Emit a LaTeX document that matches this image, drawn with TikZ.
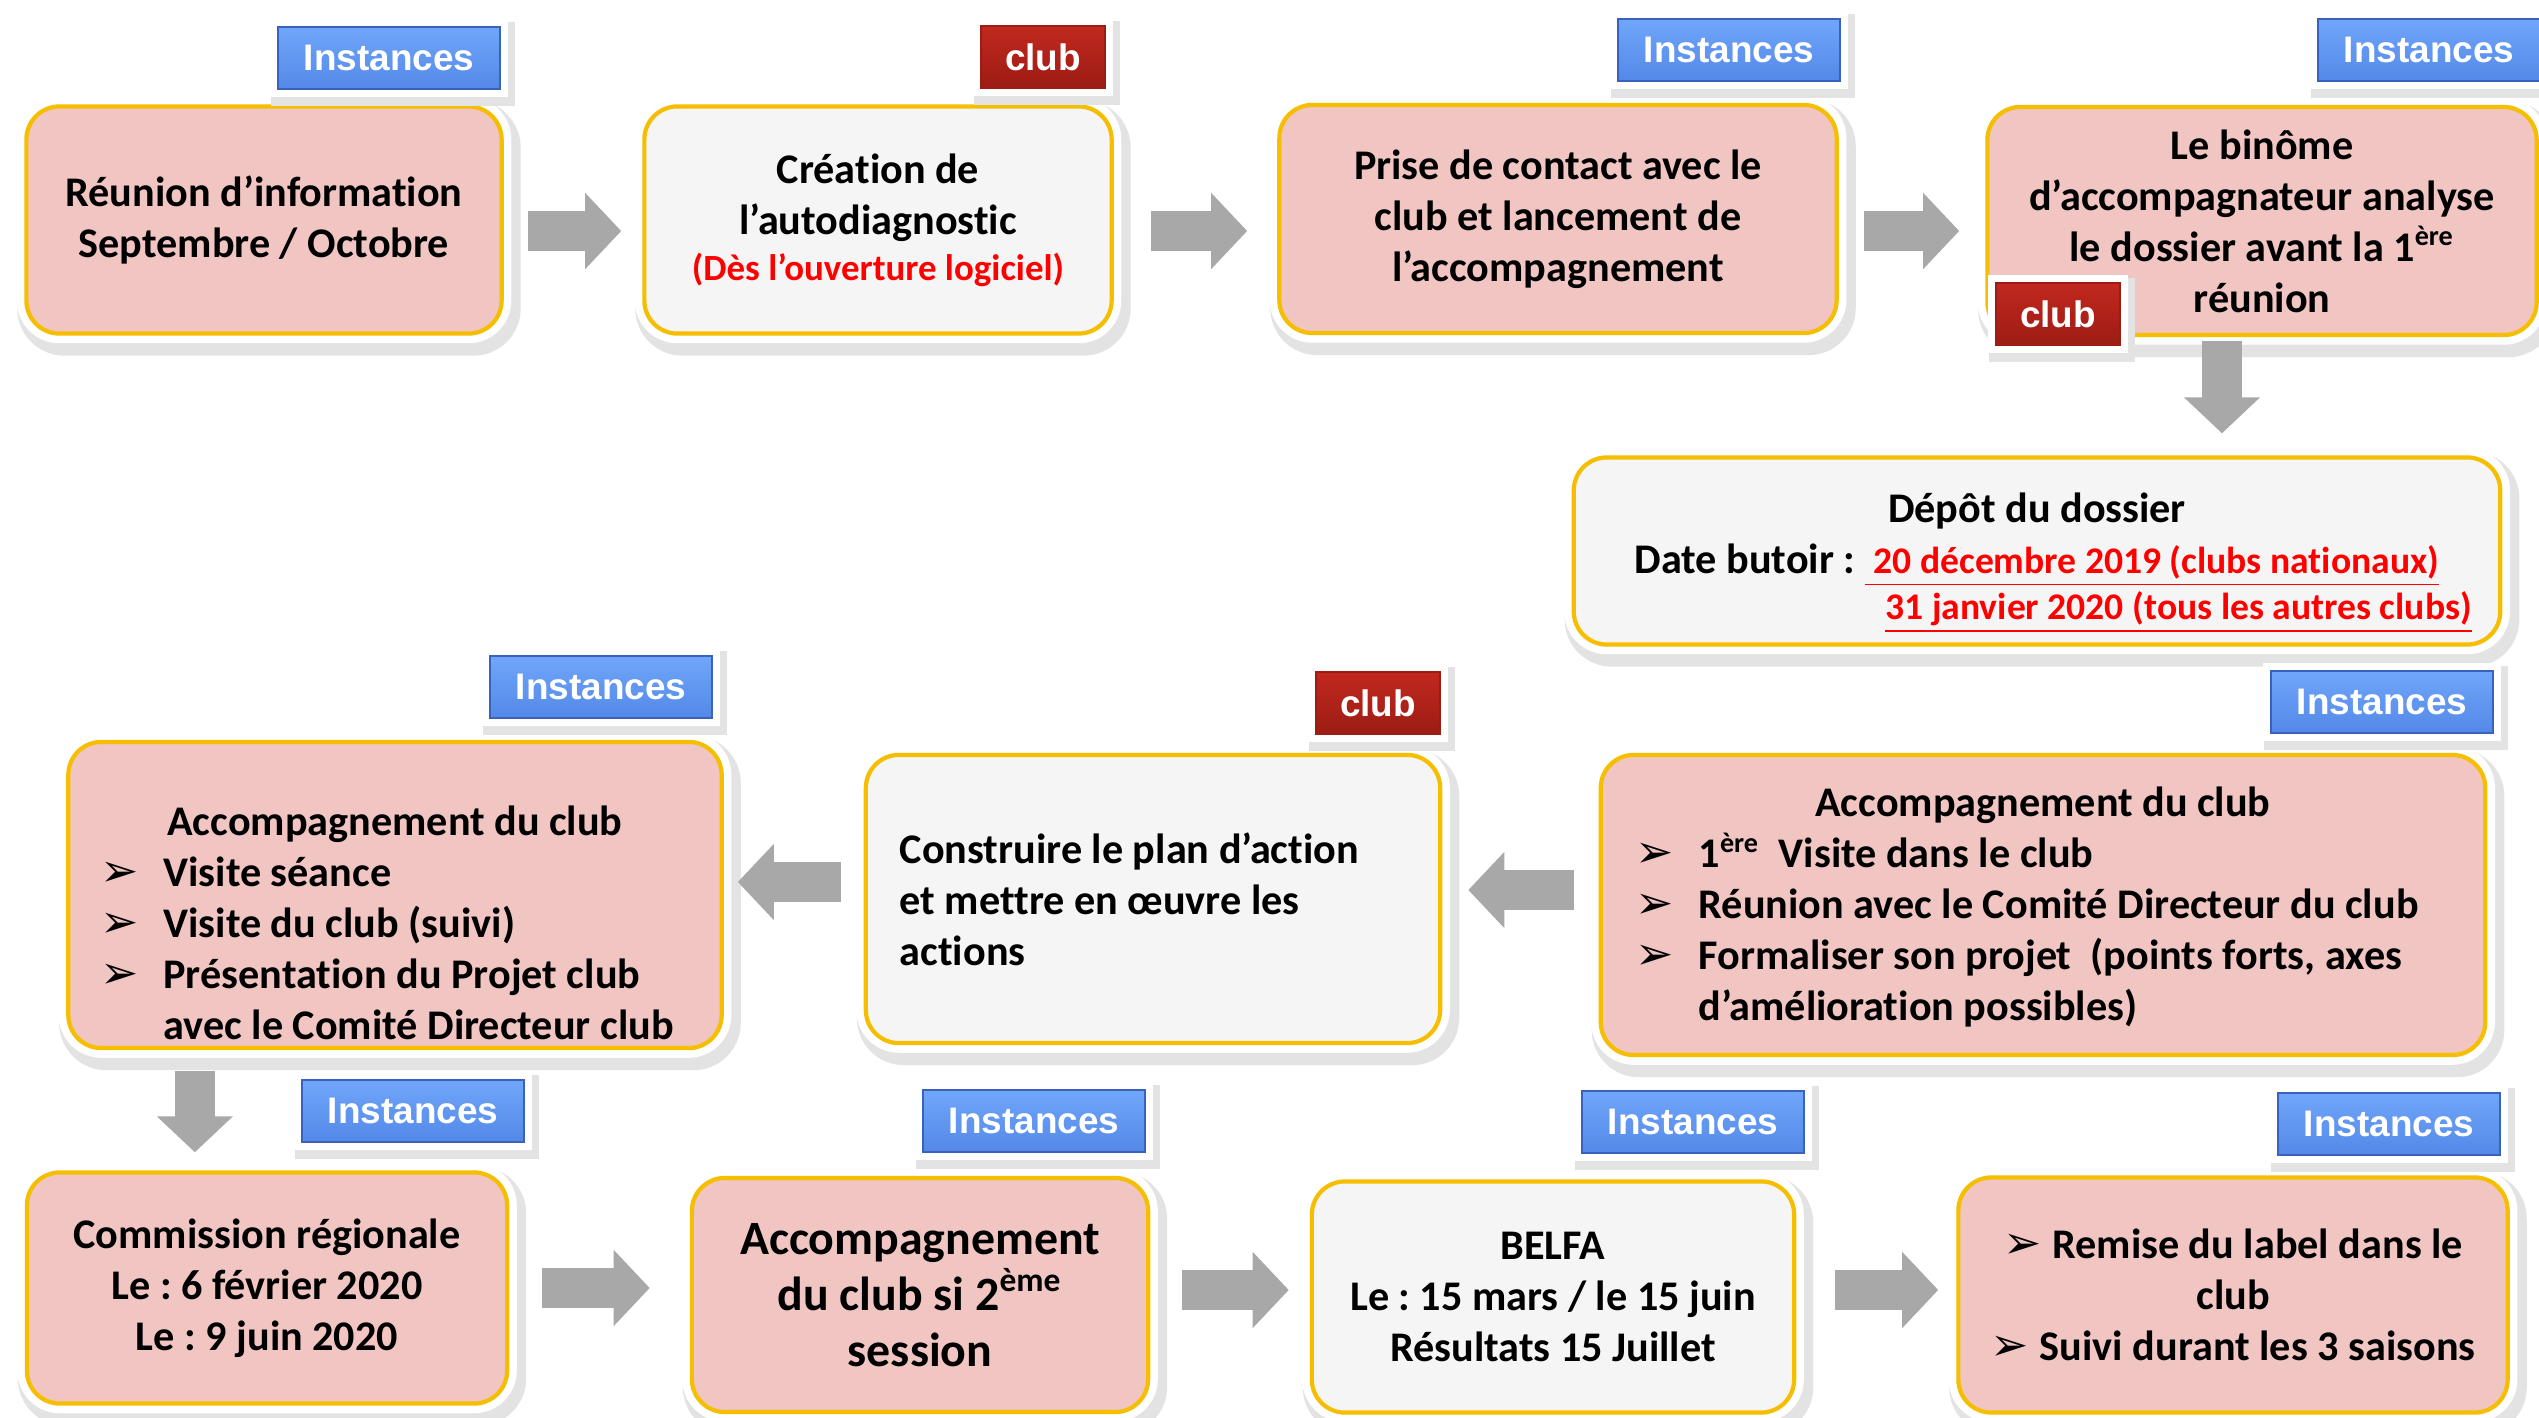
\documentclass[tikz,border=0pt]{standalone}
\usepackage{fontspec}
\setmainfont{Carlito}[Ligatures=NoCommon]
\newfontfamily\tagfont{Liberation Sans}
\newfontfamily\bulfont{DejaVu Sans}
\usepackage{tikz}
\usetikzlibrary{arrows.meta,shadows}
\definecolor{boxpink}{RGB}{240,197,194}
\definecolor{boxwhite}{RGB}{245,245,245}
\definecolor{boxgold}{RGB}{245,190,0}
\definecolor{bluetop}{RGB}{112,166,250}
\definecolor{bluebot}{RGB}{84,136,232}
\definecolor{blueline}{RGB}{58,98,186}
\definecolor{redtop}{RGB}{194,40,30}
\definecolor{redbot}{RGB}{156,28,20}
\definecolor{arrowgray}{RGB}{168,168,168}
\newcommand{\bul}[1][18pt]{\makebox[#1][l]{\bulfont\fontsize{13}{14}\selectfont ➢}}
\newcommand{\lift}[1]{\rule{0pt}{#1}}
\frenchspacing

\begin{document}
\begin{tikzpicture}[x=0.01cm,y=-0.01cm,
		dims/.style 2 args={minimum width=#1cm, minimum height=#2cm},
		box/.style={rounded corners=3.3mm, draw=boxgold, line width=1.2pt,
			general shadow={shadow xshift=0.5mm, shadow yshift=-0.8mm, fill=black!11, draw=black!11, line width=8pt},
			preaction={draw=white, line width=5.5pt},
			font=\bfseries\fontsize{12}{14.5}\selectfont, align=center, inner sep=0pt},
		pinkbox/.style={box, fill=boxpink},
		whitebox/.style={box, fill=boxwhite},
		tag/.style={general shadow={shadow xshift=0.4mm, shadow yshift=-0.6mm, fill=black!11, draw=black!11, line width=6pt},
			preaction={draw=white, line width=4.5pt}, line width=0.5pt, text=white,
			font=\tagfont\bfseries\fontsize{10.5}{12}\selectfont, minimum height=0.62cm, inner sep=0pt},
		instances/.style={tag, top color=bluetop, bottom color=bluebot, draw=blueline, minimum width=2.22cm},
		club/.style={tag, top color=redtop, bottom color=redbot, draw=redbot, minimum width=1.24cm},
		barrow/.style={draw=arrowgray, line width=0.4cm, -{Triangle[length=0.36cm,width=0.74cm]}}]
	\useasboundingbox (0,0) rectangle (2539,1418);

	\node[pinkbox, dims={4.75}{2.27}] (reunion) at (264,220) {Réunion d’information\\Septembre / Octobre};
	\node[whitebox, dims={4.67}{2.27}] (creation) at (878,220) {Création de\\l’autodiagnostic\\[-1.5pt]\textcolor{red}{\fontsize{10.5}{12}\selectfont(Dès l’ouverture logiciel)}};
	\node[pinkbox, dims={5.57}{2.28}] (contact) at (1558,219) {Prise de contact avec le\\club et lancement de\\l’accompagnement};
	\node[pinkbox, dims={5.49}{2.28}] (binome) at (2262,221) {Le binôme\\d’accompagnateur analyse\\le dossier avant la 1\textsuperscript{ère}\\réunion};
	\node[whitebox, dims={9.26}{1.87}] (depot) at (2037,551) {\lift{0.54cm}Dépôt du dossier\\Date butoir : \textcolor{red}{\fontsize{10.7}{12}\selectfont\underline{ 20 décembre 2019 (clubs nationaux)}}\\[-1.5pt]\hspace*{2.83cm}\textcolor{red}{\fontsize{10.7}{12}\selectfont\underline{31 janvier 2020 (tous les autres clubs)}}};

	\node[pinkbox, dims={8.84}{3.00}] (visite) at (2043,905) {\begin{tabular}{@{}l@{}}
			\multicolumn{1}{c}{\lift{0.42cm}Accompagnement du club}\\
			\bul 1\textsuperscript{ère}~ Visite dans le club\\
			\bul Réunion avec le Comité Directeur du club\hspace*{0.32cm}\\
			\bul Formaliser son projet~ (points forts, axes\\
			\hspace*{18pt}d’amélioration possibles)
		\end{tabular}};
	\node[whitebox, dims={5.74}{2.88}, text width=5.06cm, align=flush left] (plan) at (1153,899) {Construire le plan d’action\\et mettre en œuvre les\\actions};
	\node[pinkbox, dims={6.53}{3.06}] (suivi) at (395,895) {\raisebox{-0.32cm}[\height][\depth]{\begin{tabular}{@{}l@{}}
			\multicolumn{1}{c}{Accompagnement du club}\\
			\bul Visite séance\\
			\bul Visite du club (suivi)\\
			\bul Présentation du Projet club\\
			\hspace*{18pt}avec le Comité Directeur club\hspace*{0.16cm}
		\end{tabular}}};

	\node[pinkbox, dims={4.80}{2.31}] (commission) at (267,1288) {Commission régionale\\Le : 6 février 2020\\Le : 9 juin 2020};
	\node[pinkbox, dims={4.56}{2.34}, font=\bfseries\fontsize{13.6}{16}\selectfont] (session) at (920,1295) {Accompagnement\\du club si 2\textsuperscript{ème}\\session};
	\node[whitebox, dims={4.82}{2.31}] (belfa) at (1553,1297) {BELFA\\Le : 15 mars / le 15 juin\\Résultats 15 Juillet};
	\node[pinkbox, dims={5.49}{2.35}] (remise) at (2233,1295) {\bul[14pt]Remise du label dans le\\club\\\bul[14pt]Suivi durant les 3 saisons};

	\node[instances] (i1) at (389,58) {Instances};
	\node[club] (c1) at (1043,57) {club};
	\node[instances] (i2) at (1729,50) {Instances};
	\node[instances] (i3) at (2429,50) {Instances};
	\node[club] (c2) at (2058,314) {club};
	\node[instances] (i4) at (601,687) {Instances};
	\node[club] (c3) at (1378,703) {club};
	\node[instances] (i5) at (2382,702) {Instances};
	\node[instances] (i6) at (413,1111) {Instances};
	\node[instances] (i7) at (1034,1121) {Instances};
	\node[instances] (i8) at (1693,1122) {Instances};
	\node[instances] (i9) at (2389,1124) {Instances};

	\draw[barrow, shorten <=0.24cm, shorten >=0.21cm] ([yshift=-1.1mm]reunion.east) -- ([yshift=-1.1mm]reunion.east -| creation.west);
	\draw[barrow, shorten <=0.37cm, shorten >=0.30cm] ([yshift=-1.1mm]creation.east) -- ([yshift=-1.1mm]creation.east -| contact.west);
	\draw[barrow, shorten <=0.25cm, shorten >=0.26cm] ([yshift=-1.2mm]contact.east) -- ([yshift=-1.2mm]contact.east -| binome.west);
	\draw[barrow, shorten <=0.04cm, shorten >=0.22cm] ([xshift=-4mm]binome.south) -- ([xshift=-4mm]binome.south |- depot.north);
	\draw[barrow, shorten <=0.25cm, shorten >=0.26cm] ([yshift=1.5mm]visite.west) -- ([yshift=1.5mm]visite.west -| plan.east);
	\draw[barrow, shorten <=0.23cm, shorten >=0.14cm] ([yshift=1.7mm]plan.west) -- ([yshift=1.7mm]plan.west -| suivi.east);
	\draw[barrow, shorten <=0.21cm, shorten >=0.18cm] ([xshift=-2cm]suivi.south) -- ([xshift=-2cm]suivi.south |- commission.north);
	\draw[barrow, shorten <=0.33cm, shorten >=0.40cm] (commission.east) -- (commission.east -| session.west);
	\draw[barrow, shorten <=0.32cm, shorten >=0.21cm] ([yshift=0.5mm]session.east) -- ([yshift=0.5mm]session.east -| belfa.west);
	\draw[barrow, shorten <=0.39cm, shorten >=0.18cm] ([yshift=0.7mm]belfa.east) -- ([yshift=0.7mm]belfa.east -| remise.west);
\end{tikzpicture}
\end{document}
